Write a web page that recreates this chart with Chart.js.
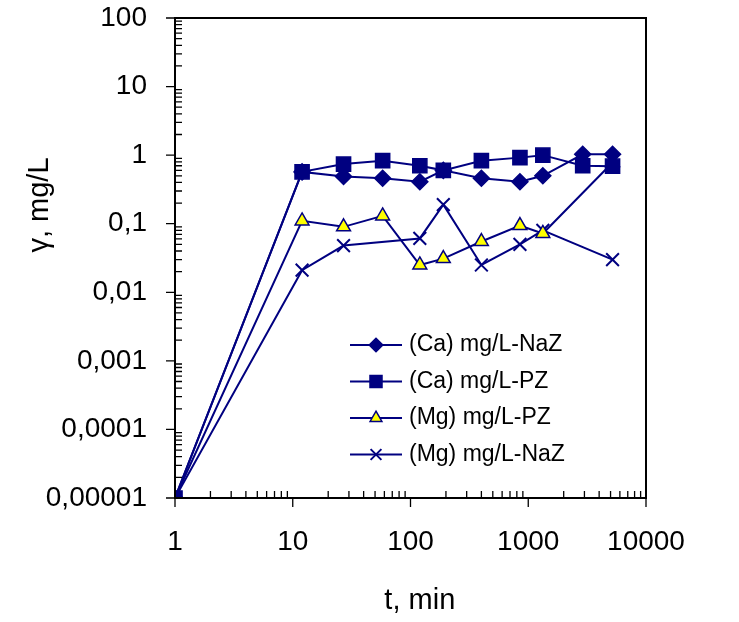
<!DOCTYPE html>
<html><head><meta charset="utf-8">
<script src="https://cdn.jsdelivr.net/npm/chart.js@4/dist/chart.umd.min.js"></script>
<style>html,body{margin:0;padding:0;background:#fff}#c{display:block}</style>
</head><body>
<div style="width:739px;height:622px"><canvas id="c" width="739" height="622"></canvas></div>
<script>
const caNaZ_t = [1, 12, 27, 58, 120, 190, 400, 850, 1330, 2900, 5200];
const caNaZ_v = [0.00001, 0.57, 0.49, 0.46, 0.41, 0.6, 0.46, 0.41, 0.50, 1.03, 1.03];
const caPZ_t = [1, 12, 27, 58, 120, 190, 400, 850, 1330, 2900, 5200];
const caPZ_v = [0.00001, 0.57, 0.74, 0.83, 0.70, 0.60, 0.83, 0.92, 1.0, 0.70, 0.69];
const mgPZ_t = [1, 12, 27, 58, 120, 190, 400, 850, 1330, 5200];
const mgPZ_v = [0.00001, 0.11, 0.09, 0.13, 0.025, 0.031, 0.055, 0.094, 0.072, 0.78];
const mgNaZ_t = [1, 12, 27, 120, 190, 400, 850, 1330, 5200];
const mgNaZ_v = [0.00001, 0.021, 0.048, 0.061, 0.19, 0.025, 0.05, 0.08, 0.030];
const labels = ["(Ca) mg/L-NaZ","(Ca) mg/L-PZ","(Mg) mg/L-PZ","(Mg) mg/L-NaZ"];
const yTickLabels = {"100":"100","10":"10","1":"1","0.1":"0,1","0.01":"0,01","0.001":"0,001","0.0001":"0,0001","0.00001":"0,00001"};
const xTickLabels = ["1","10","100","1000","10000"];
const navy = "#000080";
const pts = (t,v)=>t.map((x,i)=>({x:x,y:v[i]}));
const ds = [
 {label:labels[0],data:pts(caNaZ_t,caNaZ_v),pointStyle:'rectRot',pointRadius:8,backgroundColor:navy},
 {label:labels[1],data:pts(caPZ_t,caPZ_v),pointStyle:'rect',pointRadius:10,backgroundColor:navy},
 {label:labels[2],data:pts(mgPZ_t,mgPZ_v),pointStyle:'triangle',pointRadius:8,backgroundColor:'#ffff00'},
 {label:labels[3],data:pts(mgNaZ_t,mgNaZ_v),pointStyle:'crossRot',pointRadius:9,backgroundColor:navy}
].map(d=>Object.assign(d,{borderColor:navy,borderWidth:2,pointBorderColor:navy,pointBorderWidth:1.5,pointHoverRadius:d.pointRadius}));
ds[3].pointBorderWidth=2;
const F='"Liberation Sans", Arial, sans-serif';
const deco = {id:'deco',afterDraw(c){
 const ctx=c.ctx, a=c.chartArea, xs=c.scales.x, ys=c.scales.y;
 ctx.save(); ctx.strokeStyle='#000'; ctx.lineWidth=2;
 ctx.strokeRect(a.left,a.top,a.right-a.left,a.bottom-a.top);
 ctx.lineWidth=1.3; ctx.beginPath();
 for(let e=0;e<4;e++)for(let m=1;m<=10;m++){const v=m*Math.pow(10,e);const p=xs.getPixelForValue(v);const L=(m===1||m===10)?9:-7;
   ctx.moveTo(p,a.bottom);ctx.lineTo(p,a.bottom+L);}
 for(let e=-5;e<2;e++)for(let m=1;m<=10;m++){const v=m*Math.pow(10,e);const p=ys.getPixelForValue(v);
   if(m===1||m===10){ctx.moveTo(a.left,p);ctx.lineTo(a.left-9,p);} else {ctx.moveTo(a.left,p);ctx.lineTo(a.left+7,p);} }
 ctx.stroke();
 ctx.fillStyle='#000'; ctx.font='28px '+F; ctx.textAlign='right'; ctx.textBaseline='middle';
 Object.keys(yTickLabels).forEach(k=>ctx.fillText(yTickLabels[k],a.left-28,ys.getPixelForValue(parseFloat(k))));
 ctx.textAlign='center'; ctx.textBaseline='top';
 xTickLabels.forEach(k=>ctx.fillText(k,xs.getPixelForValue(parseFloat(k)),a.bottom+30));
 ctx.font='29px '+F; ctx.fillText('t, min',xs.getPixelForValue(120),a.bottom+88);
 ctx.save(); ctx.translate(40,205); ctx.rotate(-Math.PI/2); ctx.textBaseline='middle'; ctx.fillText('γ, mg/L',0,0); ctx.restore();
 ctx.font='23px '+F; ctx.textAlign='left'; ctx.textBaseline='middle';
 c.data.datasets.forEach((d,i)=>{const y=345+i*36.5;
  ctx.strokeStyle=navy; ctx.lineWidth=2; ctx.beginPath(); ctx.moveTo(350,y); ctx.lineTo(402,y); ctx.stroke();
  ctx.fillStyle=d.backgroundColor; ctx.strokeStyle=navy; ctx.lineWidth=d.pointBorderWidth;
  Chart.helpers.drawPoint(ctx,{pointStyle:d.pointStyle,radius:d.pointRadius*0.85,borderWidth:d.pointBorderWidth},376,y);
  ctx.fillStyle='#000'; ctx.fillText(d.label,409,y);
 });
 ctx.restore();
}};
new Chart(document.getElementById('c'),{type:'line',data:{datasets:ds},plugins:[deco],
 options:{responsive:false,animation:false,
  layout:{padding:{top:18,right:93,left:0,bottom:0}},
  plugins:{legend:{display:false},tooltip:{enabled:false}},
  scales:{
   x:{type:'logarithmic',min:1,max:10000,grid:{display:false},border:{display:false},ticks:{display:false},afterFit(s){s.height=124;}},
   y:{type:'logarithmic',min:0.00001,max:100,grid:{display:false},border:{display:false},ticks:{display:false},afterFit(s){s.width=175;}}
  }}});
</script></body></html>
